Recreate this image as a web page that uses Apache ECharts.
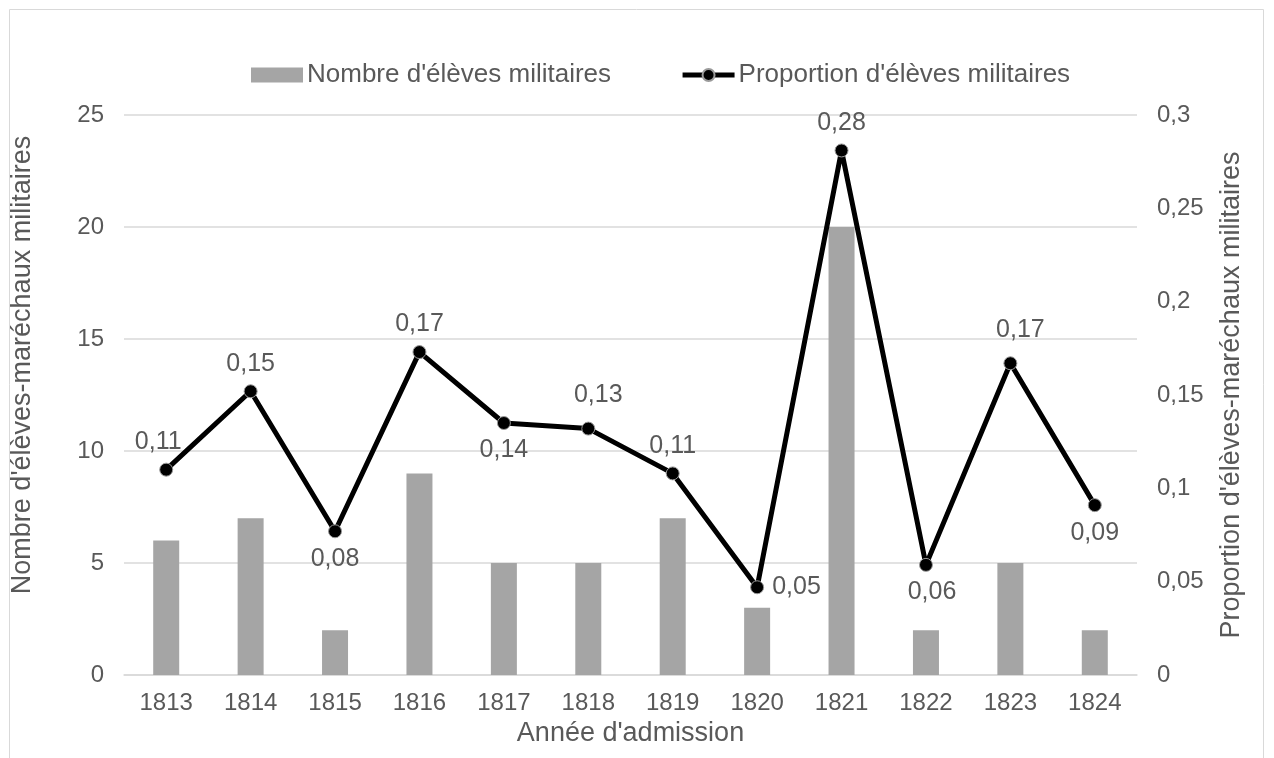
<!DOCTYPE html>
<html>
<head>
<meta charset="utf-8">
<script src="https://cdn.jsdelivr.net/npm/echarts@6/dist/echarts.min.js"></script>
<style>
  html, body { margin: 0; padding: 0; background: #fff; }
  #main { width: 1274px; height: 758px; }
</style>
</head>
<body>
<div id="main"></div>
<script>
var years = ['1813', '1814', '1815', '1816', '1817', '1818', '1819', '1820', '1821', '1822', '1823', '1824'];
var nombre = [6, 7, 2, 9, 5, 5, 7, 3, 20, 2, 5, 2];
var proportion = [0.11, 0.152, 0.077, 0.173, 0.135, 0.132, 0.108, 0.047, 0.281, 0.059, 0.167, 0.091];
var labelPlace = ['top', 'top', 'bottom', 'top', 'bottom', 'top', 'top', 'right', 'top', 'bottom', 'top', 'bottom'];

var font = 'Liberation Sans, Arial, sans-serif';
var txt = '#595959';

function virgule(v) {
    return String(v).replace('.', ',');
}

var lineData = proportion.map(function (v, i) {
    var lab = { position: labelPlace[i], distance: 8 };
    if (i === 0) { lab.offset = [-8, 0]; }
    if (i === 5 || i === 10) { lab.offset = [10, -6]; }
    if (i === 9) { lab.offset = [6, 0]; }
    return { value: v, label: lab };
});

var myChart = echarts.init(document.getElementById('main'));
myChart.setOption({
    animation: false,
    textStyle: { fontFamily: font },
    graphic: [{
        type: 'rect',
        shape: { x: 9.5, y: 9.5, width: 1254, height: 760 },
        style: { fill: 'none', stroke: '#d9d9d9', lineWidth: 1 },
        silent: true
    }],
    legend: {
        top: 57,
        left: 246,
        itemGap: 69,
        itemWidth: 52,
        itemHeight: 15,
        textStyle: { fontSize: 26, color: txt, fontFamily: font, padding: [0, 0, 0, -1] },
        data: [
            { name: "Nombre d'élèves militaires", icon: 'rect' },
            { name: "Proportion d'élèves militaires", lineStyle: { width: 5 } }
        ]
    },
    grid: { left: 124, right: 137, top: 115, bottom: 83 },
    xAxis: {
        type: 'category',
        data: years,
        name: "Année d'admission",
        nameLocation: 'middle',
        nameGap: 43,
        nameTextStyle: { fontSize: 27, color: txt },
        axisLine: { lineStyle: { color: '#d9d9d9', width: 1.5 } },
        axisTick: { show: false },
        axisLabel: { fontSize: 24, color: txt, margin: 16 }
    },
    yAxis: [{
        type: 'value',
        min: 0, max: 25, interval: 5,
        name: "Nombre d'élèves-maréchaux militaires",
        nameLocation: 'middle',
        nameGap: 88,
        nameTextStyle: { fontSize: 27, color: txt, padding: [0, 0, 0, 60] },
        axisLabel: { fontSize: 24, color: txt, margin: 20 },
        splitLine: { lineStyle: { color: '#d9d9d9', width: 1.5 } }
    }, {
        type: 'value',
        min: 0, max: 0.3, interval: 0.05,
        name: "Proportion d'élèves-maréchaux militaires",
        nameLocation: 'middle',
        nameGap: 81,
        nameRotate: 90,
        nameTextStyle: { fontSize: 27, color: txt },
        axisLabel: { fontSize: 24, color: txt, margin: 20, formatter: virgule },
        splitLine: { show: false }
    }],
    series: [{
        name: "Nombre d'élèves militaires",
        type: 'bar',
        data: nombre,
        barWidth: 26,
        itemStyle: { color: '#a5a5a5' }
    }, {
        name: "Proportion d'élèves militaires",
        type: 'line',
        yAxisIndex: 1,
        data: lineData,
        symbol: 'circle',
        symbolSize: 13,
        lineStyle: { color: '#000', width: 5 },
        itemStyle: { color: '#000', borderColor: '#9a9a9a', borderWidth: 1 },
        label: {
            show: true,
            fontSize: 25,
            color: txt,
            formatter: function (p) { return virgule(p.value.toFixed(2)); }
        }
    }]
});
</script>
</body>
</html>
